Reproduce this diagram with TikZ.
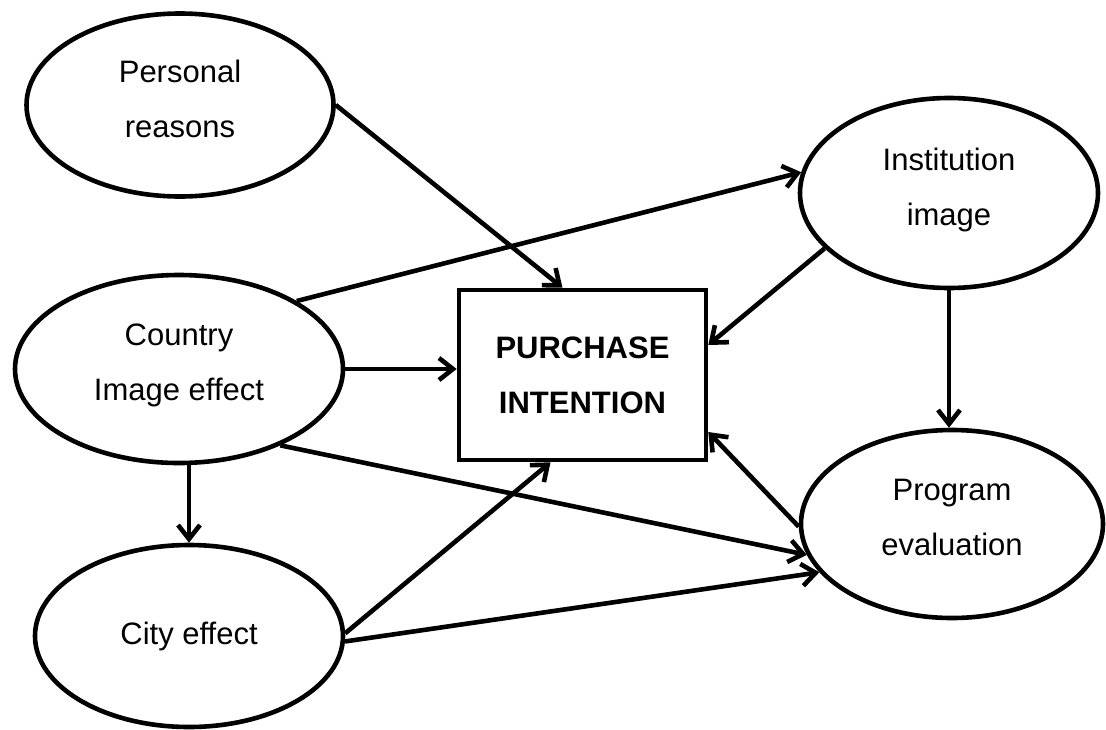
\documentclass[tikz,border=0pt]{standalone}
\usepackage{fontspec}
\setmainfont{Liberation Sans}
\usetikzlibrary{shapes.geometric,arrows.meta}
\begin{document}
\begin{tikzpicture}[x=1pt,y=-1pt,
  oval/.style={ellipse,draw,line width=4.6pt,inner sep=0pt,align=center,
    font=\fontsize{31}{55}\selectfont},
  twoline/.style={text depth=13pt},
  mainbox/.style={rectangle,draw,line width=4.6pt,inner sep=0pt,align=center,
    minimum width=247pt,minimum height=170pt,
    font=\fontsize{31}{55}\selectfont\bfseries},
  arr/.style={line width=4.6pt,-{Straight Barb[length=14pt,width=22pt,line width=4.6pt]}}]
\useasboundingbox (0,0) rectangle (1106,729);
\node[oval,twoline,minimum width=307pt,minimum height=183pt] (pr) at (180,105) {Personal\\reasons};
\node[oval,twoline,minimum width=328pt,minimum height=188pt] (ce) at (179,369) {Country\\Image effect};
\node[oval,minimum width=308pt,minimum height=182pt] (ci) at (189,636) {City effect};
\node[oval,twoline,minimum width=298pt,minimum height=190pt] (ii) at (949,193) {Institution\\image};
\node[oval,twoline,minimum width=302pt,minimum height=188pt] (pe) at (952,524) {Program\\evaluation};
\node[mainbox] (pi) at (582.5,375) {PURCHASE\\INTENTION};
\draw[arr] (pr.east) -- ([xshift=-20pt]pi.north);
\draw[arr] (ce.30) -- (ii.172);
\draw[arr] (ce.east) -- (ce.east -| pi.west);
\draw[arr] (ce.-37) -- (pe.192);
\draw[arr] (ci.north |- ce.south) -- (ci.north);
\draw[arr] (ci.1.5) -- ([xshift=-32pt]pi.south);
\draw[arr] (ci.-2.6) -- (pe.200);
\draw[arr] (ii.204) -- ([yshift=30pt]pi.east);
\draw[arr] (pe.181) -- ([yshift=-57pt]pi.east);
\draw[arr] (ii.south) -- (ii.south |- pe.north);
\end{tikzpicture}
\end{document}
